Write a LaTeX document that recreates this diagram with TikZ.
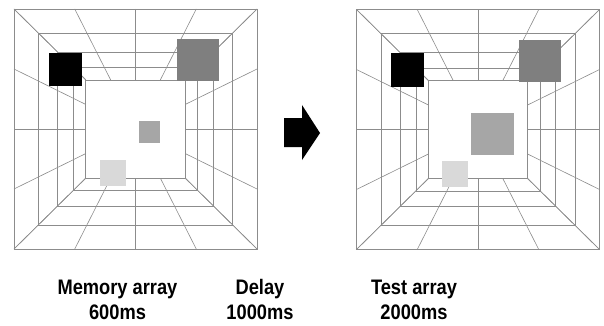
\documentclass[tikz,border=0pt]{standalone}
\usepackage{fontspec}
\setmainfont{Liberation Sans}
\newfontfamily\captionfont[FakeStretch=0.87]{Liberation Sans}
\definecolor{sqdark}{HTML}{7F7F7F}
\definecolor{sqmid}{HTML}{A6A6A6}
\definecolor{sqlight}{HTML}{D9D9D9}
\definecolor{gridline}{HTML}{8C8C8C}
\begin{document}
\begin{tikzpicture}[x=1pt,y=-1pt,
  grid/.style={draw=gridline, line width=0.6pt},
  caption/.style={font=\captionfont\bfseries\fontsize{21}{25}\selectfont, anchor=base, inner sep=0pt}]
\useasboundingbox (0,0) rectangle (604,326);

% room drawn in one-point perspective: depth rings shrink by 0.8 each step
\newcommand\roomgrid[2]{%
  \begin{scope}[shift={(#1,#2)}]
    \foreach \k in {0,...,4} {
      \pgfmathsetmacro\f{0.8^\k}
      \draw[grid] (-121.5*\f,-120*\f) rectangle (121.5*\f,120*\f);
    }
    \foreach \t in {-1,-0.5,0,0.5,1} {
      \draw[grid] (121.5*\t,-120) -- (121.5*\t*0.4096,-120*0.4096);
      \draw[grid] (121.5*\t,120) -- (121.5*\t*0.4096,120*0.4096);
      \draw[grid] (-121.5,120*\t) -- (-121.5*0.4096,120*\t*0.4096);
      \draw[grid] (121.5,120*\t) -- (121.5*0.4096,120*\t*0.4096);
    }
  \end{scope}}

\roomgrid{135.5}{129}
\roomgrid{478}{129.5}

% memory array squares
\fill[black]   (49,53) rectangle (82,86);
\fill[sqdark]  (177,39) rectangle (219,81);
\fill[sqmid]   (139,121) rectangle (160,143);
\fill[sqlight] (100,160) rectangle (126,186);

% test array squares
\fill[black]   (391,53) rectangle (424,87);
\fill[sqdark]  (519,40) rectangle (561,82);
\fill[sqmid]   (471,113) rectangle (514,155);
\fill[sqlight] (442,161) rectangle (468,187);

% block arrow between the arrays
\fill[black] (284,118) -- (302,118) -- (302,105) -- (320,133)
  -- (302,160) -- (302,147) -- (284,147) -- cycle;

% captions
\node[caption] (mem)   at (117.5,294.5) {Memory array};
\node[caption] (memt)  at (117.5,319.5) {600ms};
\node[caption] (del)   at (260,294.5) {Delay};
\node[caption] (delt)  at (260,319.5) {1000ms};
\node[caption] (test)  at (414,294.5) {Test array};
\node[caption] (testt) at (414,319.5) {2000ms};
\end{tikzpicture}
\end{document}
